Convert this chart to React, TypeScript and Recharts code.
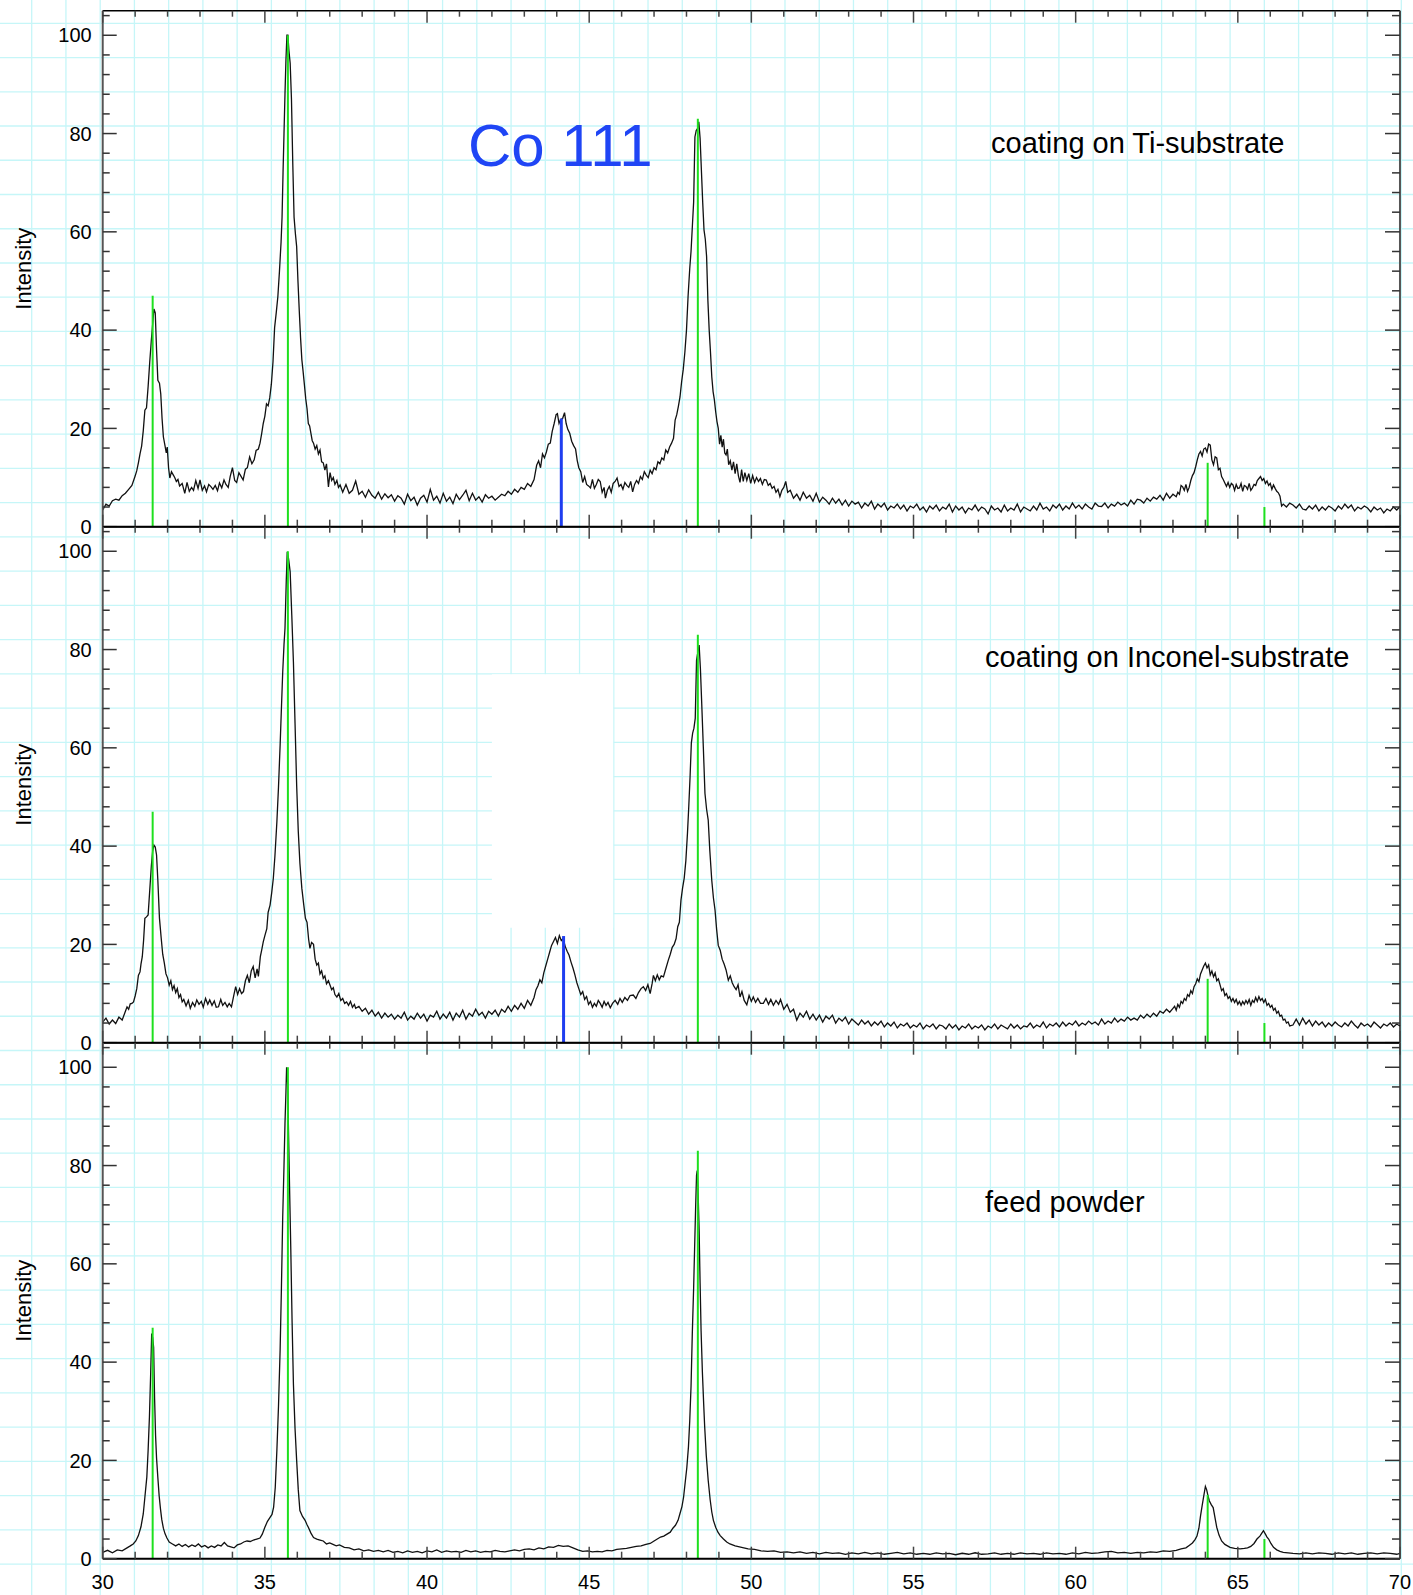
import React from "react";
import { LineChart, Line, XAxis, YAxis, ReferenceLine, ReferenceArea } from "recharts";

const W = 1413;
const H = 1595;
const PLOT_LEFT = 102.7;
const PLOT_RIGHT = 1400;
const PLOT_TOP = 10.7;
const PLOT_H = 516;
const PLOT_W = PLOT_RIGHT - PLOT_LEFT;
const FONT = '"Liberation Sans", Arial, Helvetica, sans-serif';

// [2-theta, intensity]
const tiScan: [number, number][] = [
  [30.0, 3.4], [30.1, 4.6], [30.2, 4.2], [30.3, 5.3], [30.4, 5.6], [30.5, 5.4], [30.6, 6.3], [30.7, 6.8], [30.8, 7.6], [30.9, 8.4], [31.0, 10.3],
  [31.05, 11.4], [31.1, 13.0], [31.15, 14.8], [31.2, 16.4], [31.25, 19.5], [31.3, 23.7], [31.35, 24.2], [31.4, 28.5], [31.45, 33.5], [31.5, 38.0],
  [31.55, 42.0], [31.58, 44.3], [31.62, 43.5], [31.66, 36.0], [31.7, 29.8], [31.75, 29.2], [31.79, 27.0], [31.83, 22.0], [31.87, 18.3], [31.92, 16.5],
  [31.96, 15.0], [31.99, 16.2], [32.03, 12.0], [32.07, 9.9], [32.12, 11.2], [32.17, 10.6], [32.22, 10.0], [32.27, 9.2], [32.32, 9.6], [32.37, 8.3],
  [32.45, 8.8], [32.53, 6.8], [32.6, 9.0], [32.67, 7.2], [32.74, 8.0], [32.8, 7.4], [32.87, 9.4], [32.94, 7.8], [33.0, 9.5], [33.07, 7.4],
  [33.14, 8.3], [33.2, 7.1], [33.27, 8.6], [33.33, 8.2], [33.4, 7.6], [33.47, 8.4], [33.54, 7.3], [33.6, 8.9], [33.67, 7.9], [33.74, 9.5],
  [33.8, 8.6], [33.87, 8.0], [33.93, 10.2], [34.0, 12.0], [34.07, 9.4], [34.13, 9.0], [34.2, 11.0], [34.27, 10.2], [34.33, 9.5], [34.4, 11.7],
  [34.46, 12.0], [34.53, 14.2], [34.6, 12.8], [34.67, 13.6], [34.73, 15.5], [34.8, 15.8], [34.85, 17.0], [34.9, 18.9], [34.95, 21.0], [35.0, 22.5],
  [35.05, 25.0], [35.1, 24.6], [35.15, 26.2], [35.2, 29.0], [35.25, 33.5], [35.3, 40.5], [35.35, 43.5], [35.4, 46.8], [35.45, 52.0], [35.5, 58.0],
  [35.53, 63.0], [35.56, 72.0], [35.59, 80.0], [35.62, 88.0], [35.65, 95.0], [35.68, 100.0], [35.71, 100.0], [35.74, 97.0], [35.78, 94.3], [35.82, 87.0],
  [35.86, 74.0], [35.9, 63.0], [35.94, 59.7], [35.98, 57.0], [36.02, 50.0], [36.06, 44.0], [36.1, 38.5], [36.14, 34.0], [36.18, 31.5], [36.22, 28.8],
  [36.26, 26.0], [36.3, 24.0], [36.34, 21.0], [36.38, 20.5], [36.42, 19.0], [36.46, 17.5], [36.5, 17.0], [36.55, 15.8], [36.6, 16.5], [36.65, 14.8],
  [36.7, 15.6], [36.75, 13.2], [36.8, 13.0], [36.85, 11.5], [36.9, 12.8], [36.96, 8.1], [37.01, 11.0], [37.06, 9.4], [37.11, 10.0], [37.16, 8.6],
  [37.22, 9.4], [37.27, 8.0], [37.32, 8.5], [37.4, 7.0], [37.5, 8.6], [37.6, 6.8], [37.7, 7.4], [37.8, 9.3], [37.9, 6.6], [38.0, 7.2],
  [38.1, 6.0], [38.2, 7.5], [38.3, 6.4], [38.4, 5.8], [38.5, 7.0], [38.6, 5.6], [38.7, 6.7], [38.8, 5.9], [38.9, 6.5], [39.0, 5.2],
  [39.1, 6.3], [39.2, 5.8], [39.3, 4.6], [39.4, 6.6], [39.5, 5.3], [39.6, 6.0], [39.7, 4.4], [39.8, 5.8], [39.9, 6.4], [40.0, 5.0],
  [40.1, 7.6], [40.2, 5.4], [40.3, 6.2], [40.4, 4.8], [40.5, 6.8], [40.6, 5.2], [40.7, 6.0], [40.8, 4.7], [40.9, 6.6], [41.0, 5.5],
  [41.1, 6.4], [41.2, 7.4], [41.3, 5.3], [41.4, 6.8], [41.5, 5.4], [41.6, 6.1], [41.7, 5.0], [41.8, 6.5], [41.9, 5.8], [42.0, 6.2],
  [42.1, 5.4], [42.2, 6.0], [42.3, 6.6], [42.4, 6.3], [42.5, 7.2], [42.6, 6.6], [42.7, 7.6], [42.8, 7.0], [42.9, 8.0], [43.0, 7.6],
  [43.1, 8.8], [43.2, 8.2], [43.3, 9.6], [43.38, 12.5], [43.44, 13.4], [43.5, 12.0], [43.56, 14.8], [43.62, 14.0], [43.68, 15.2], [43.74, 16.8],
  [43.8, 17.0], [43.86, 19.4], [43.92, 21.0], [43.98, 22.8], [44.02, 23.0], [44.07, 21.0], [44.12, 21.8], [44.18, 22.0], [44.24, 23.2], [44.29, 21.0],
  [44.34, 19.8], [44.4, 19.0], [44.46, 17.4], [44.52, 16.5], [44.58, 15.8], [44.63, 13.5], [44.68, 12.0], [44.74, 11.2], [44.8, 9.0], [44.86, 10.2],
  [44.92, 8.6], [44.98, 8.3], [45.04, 7.9], [45.1, 9.6], [45.16, 7.8], [45.22, 8.6], [45.28, 9.6], [45.34, 9.2], [45.4, 7.0], [45.46, 8.0],
  [45.5, 5.8], [45.56, 7.4], [45.62, 8.2], [45.68, 7.0], [45.74, 8.8], [45.8, 9.2], [45.86, 9.9], [45.92, 8.2], [45.98, 8.6], [46.04, 7.6],
  [46.1, 9.0], [46.16, 8.4], [46.22, 8.0], [46.28, 9.2], [46.34, 7.1], [46.4, 8.6], [46.46, 9.4], [46.52, 8.8], [46.58, 10.2], [46.64, 9.6],
  [46.7, 11.2], [46.76, 10.5], [46.82, 10.0], [46.88, 11.5], [46.94, 10.8], [47.0, 12.0], [47.06, 11.6], [47.12, 13.2], [47.18, 12.8], [47.24, 14.0],
  [47.3, 13.6], [47.36, 15.6], [47.42, 15.0], [47.48, 16.2], [47.54, 17.0], [47.6, 18.0], [47.65, 21.7], [47.7, 22.8], [47.75, 24.5], [47.8, 26.4],
  [47.85, 29.5], [47.9, 32.0], [47.95, 35.5], [48.0, 40.0], [48.05, 47.0], [48.1, 52.5], [48.14, 56.0], [48.18, 61.0], [48.22, 66.0], [48.26, 79.3],
  [48.3, 80.6], [48.34, 81.0], [48.38, 82.4], [48.42, 79.0], [48.46, 72.5], [48.5, 66.0], [48.54, 60.4], [48.58, 58.5], [48.62, 55.0], [48.66, 46.0],
  [48.7, 40.0], [48.74, 35.5], [48.78, 30.5], [48.82, 27.5], [48.86, 25.8], [48.9, 23.4], [48.94, 21.4], [48.98, 20.0], [49.02, 16.8], [49.06, 18.6],
  [49.1, 16.2], [49.14, 17.8], [49.18, 15.0], [49.22, 14.6], [49.26, 15.8], [49.3, 12.6], [49.35, 13.4], [49.4, 11.5], [49.45, 13.2], [49.5, 10.8],
  [49.55, 12.8], [49.6, 10.4], [49.65, 9.0], [49.7, 11.6], [49.75, 9.2], [49.8, 11.0], [49.86, 9.4], [49.92, 10.8], [49.98, 8.8], [50.04, 10.4],
  [50.1, 9.0], [50.16, 10.0], [50.22, 9.2], [50.28, 9.8], [50.34, 8.6], [50.4, 9.6], [50.46, 9.5], [50.52, 8.4], [50.58, 8.8], [50.64, 7.8],
  [50.7, 8.2], [50.76, 7.0], [50.82, 7.6], [50.88, 6.1], [50.94, 7.4], [51.0, 8.0], [51.06, 9.2], [51.12, 7.0], [51.2, 7.4], [51.3, 5.8],
  [51.4, 6.6], [51.5, 5.4], [51.6, 7.0], [51.7, 5.8], [51.8, 6.4], [51.9, 5.2], [52.0, 6.8], [52.1, 5.0], [52.2, 6.0], [52.3, 5.4],
  [52.4, 4.6], [52.5, 5.8], [52.6, 4.8], [52.7, 5.6], [52.8, 4.4], [52.9, 5.4], [53.0, 4.2], [53.1, 5.2], [53.2, 4.6], [53.3, 5.0],
  [53.4, 3.8], [53.5, 4.8], [53.6, 4.2], [53.7, 5.2], [53.8, 3.6], [53.9, 4.6], [54.0, 4.0], [54.1, 4.8], [54.2, 3.4], [54.3, 4.2],
  [54.4, 3.8], [54.5, 4.6], [54.6, 3.6], [54.7, 4.4], [54.8, 3.2], [54.9, 4.2], [55.0, 3.8], [55.1, 4.6], [55.2, 3.4], [55.3, 4.0],
  [55.4, 3.0], [55.5, 4.2], [55.6, 3.6], [55.7, 4.4], [55.8, 3.2], [55.9, 4.0], [56.0, 3.6], [56.1, 4.6], [56.2, 3.0], [56.3, 4.2],
  [56.4, 3.4], [56.5, 4.0], [56.6, 2.8], [56.7, 3.8], [56.8, 3.4], [56.9, 4.4], [57.0, 3.2], [57.1, 4.0], [57.2, 3.6], [57.3, 2.6],
  [57.4, 4.2], [57.5, 3.4], [57.6, 3.8], [57.7, 3.0], [57.8, 4.4], [57.9, 3.2], [58.0, 3.8], [58.1, 3.4], [58.2, 4.6], [58.3, 3.0],
  [58.4, 4.0], [58.5, 3.6], [58.6, 3.2], [58.7, 4.2], [58.8, 3.4], [58.9, 4.8], [59.0, 3.6], [59.1, 4.0], [59.2, 3.2], [59.3, 4.4],
  [59.4, 3.8], [59.5, 4.6], [59.6, 3.4], [59.7, 4.2], [59.8, 3.6], [59.9, 4.8], [60.0, 3.8], [60.1, 4.4], [60.2, 3.6], [60.3, 4.6],
  [60.4, 4.0], [60.5, 3.6], [60.6, 4.8], [60.7, 4.2], [60.8, 4.1], [60.9, 4.8], [61.0, 3.8], [61.1, 4.6], [61.2, 4.2], [61.3, 5.0],
  [61.4, 4.4], [61.5, 4.8], [61.6, 4.2], [61.7, 5.4], [61.8, 4.6], [61.9, 5.6], [62.0, 5.4], [62.1, 4.8], [62.2, 5.8], [62.3, 5.2],
  [62.4, 6.0], [62.5, 5.6], [62.6, 6.4], [62.7, 5.4], [62.8, 6.8], [62.9, 5.8], [63.0, 6.6], [63.1, 6.1], [63.15, 7.0], [63.2, 6.6],
  [63.25, 8.4], [63.3, 8.1], [63.35, 7.4], [63.4, 8.6], [63.45, 7.2], [63.5, 8.0], [63.55, 9.4], [63.6, 10.4], [63.65, 11.0], [63.7, 12.2],
  [63.75, 13.6], [63.8, 14.8], [63.85, 15.3], [63.9, 14.4], [63.95, 15.8], [64.0, 16.0], [64.05, 15.2], [64.1, 16.8], [64.15, 16.6], [64.2, 13.6],
  [64.25, 12.6], [64.3, 14.2], [64.35, 14.0], [64.4, 11.6], [64.45, 11.9], [64.5, 10.2], [64.55, 9.6], [64.6, 8.9], [64.65, 8.2], [64.7, 9.0],
  [64.75, 8.0], [64.8, 8.8], [64.85, 8.5], [64.9, 7.4], [64.95, 8.6], [65.0, 7.8], [65.05, 7.9], [65.1, 8.8], [65.15, 7.2], [65.2, 8.4],
  [65.25, 8.2], [65.3, 7.6], [65.35, 8.8], [65.4, 7.4], [65.45, 7.9], [65.5, 8.6], [65.55, 8.4], [65.6, 9.4], [65.65, 9.8], [65.7, 10.2],
  [65.75, 9.4], [65.8, 9.8], [65.85, 8.8], [65.9, 9.3], [65.95, 8.4], [66.0, 8.8], [66.05, 7.6], [66.1, 8.5], [66.15, 7.8], [66.2, 7.2],
  [66.25, 6.9], [66.3, 6.2], [66.35, 4.2], [66.4, 4.6], [66.5, 4.0], [66.6, 4.8], [66.7, 4.4], [66.8, 3.8], [66.9, 4.6], [67.0, 3.6],
  [67.1, 3.4], [67.2, 4.2], [67.3, 3.6], [67.4, 4.4], [67.5, 3.2], [67.6, 4.0], [67.7, 3.4], [67.8, 4.2], [67.9, 3.8], [68.0, 3.2],
  [68.1, 4.2], [68.2, 3.6], [68.3, 4.6], [68.4, 3.8], [68.5, 4.4], [68.6, 3.2], [68.7, 4.0], [68.8, 3.6], [68.9, 4.2], [69.0, 3.8],
  [69.1, 3.0], [69.2, 4.0], [69.3, 3.4], [69.4, 3.8], [69.5, 2.8], [69.6, 3.6], [69.7, 3.2], [69.8, 4.0], [69.9, 3.4], [70.0, 4.1],
];

const inconelScan: [number, number][] = [
  [30.0, 4.2], [30.1, 5.0], [30.2, 3.8], [30.3, 4.6], [30.4, 3.9], [30.5, 5.2], [30.6, 4.6], [30.7, 6.4], [30.75, 7.3], [30.8, 6.8],
  [30.85, 7.9], [30.9, 8.0], [30.95, 8.3], [31.0, 9.5], [31.05, 11.0], [31.1, 13.7], [31.15, 14.4], [31.18, 16.0], [31.22, 17.5], [31.26, 20.8],
  [31.3, 25.3], [31.35, 25.6], [31.4, 26.0], [31.45, 31.0], [31.5, 36.0], [31.54, 39.0], [31.58, 40.2], [31.62, 39.8], [31.66, 38.2], [31.7, 33.0],
  [31.75, 25.3], [31.8, 21.5], [31.85, 18.0], [31.9, 16.2], [31.95, 14.0], [32.0, 13.2], [32.05, 11.7], [32.1, 12.6], [32.15, 10.8], [32.2, 11.6],
  [32.25, 10.2], [32.3, 11.0], [32.35, 9.2], [32.4, 9.8], [32.45, 8.3], [32.5, 8.8], [32.57, 7.5], [32.64, 8.6], [32.7, 7.0], [32.77, 8.2],
  [32.84, 7.4], [32.9, 8.7], [32.97, 7.8], [33.04, 8.4], [33.1, 7.2], [33.17, 9.0], [33.24, 7.8], [33.3, 8.7], [33.37, 7.6], [33.44, 8.5],
  [33.5, 7.2], [33.57, 7.3], [33.64, 8.8], [33.7, 7.6], [33.77, 8.2], [33.84, 7.3], [33.9, 8.0], [33.97, 7.3], [34.04, 9.6], [34.1, 11.4],
  [34.16, 9.8], [34.22, 11.0], [34.28, 10.0], [34.34, 10.4], [34.4, 12.6], [34.46, 13.7], [34.52, 12.2], [34.58, 14.6], [34.64, 15.5], [34.7, 13.2],
  [34.76, 15.0], [34.8, 13.5], [34.86, 17.5], [34.9, 18.8], [34.95, 20.5], [35.0, 21.8], [35.06, 23.2], [35.1, 26.5], [35.16, 28.0], [35.21, 30.5],
  [35.26, 33.4], [35.31, 38.0], [35.37, 44.9], [35.42, 52.0], [35.47, 60.5], [35.51, 68.0], [35.55, 75.4], [35.59, 81.0], [35.62, 84.3], [35.66, 94.0],
  [35.69, 99.9], [35.73, 98.5], [35.78, 95.8], [35.83, 87.0], [35.88, 77.5], [35.93, 65.0], [35.98, 52.4], [36.03, 43.0], [36.08, 36.5], [36.14, 31.4],
  [36.2, 28.0], [36.25, 25.3], [36.3, 24.5], [36.35, 21.0], [36.39, 19.2], [36.44, 20.4], [36.5, 20.0], [36.55, 17.0], [36.6, 15.8], [36.65, 16.2],
  [36.7, 14.0], [36.75, 14.6], [36.8, 13.1], [36.85, 13.6], [36.9, 12.0], [36.96, 12.6], [37.01, 11.7], [37.06, 10.8], [37.11, 11.2], [37.16, 9.8],
  [37.22, 9.3], [37.28, 10.0], [37.34, 8.6], [37.4, 9.0], [37.46, 8.0], [37.52, 8.3], [37.58, 7.6], [37.64, 8.4], [37.7, 7.2], [37.76, 7.8],
  [37.8, 7.0], [37.9, 7.4], [38.0, 6.4], [38.1, 7.0], [38.2, 5.8], [38.3, 6.6], [38.4, 5.4], [38.5, 6.2], [38.6, 5.0], [38.7, 6.0],
  [38.8, 5.2], [38.9, 5.8], [39.0, 4.8], [39.1, 5.6], [39.2, 5.0], [39.3, 6.2], [39.4, 4.6], [39.5, 5.4], [39.6, 4.8], [39.7, 6.0],
  [39.8, 5.0], [39.9, 5.8], [40.0, 4.4], [40.1, 5.6], [40.2, 5.2], [40.3, 6.4], [40.4, 4.8], [40.5, 5.8], [40.6, 5.0], [40.7, 6.2],
  [40.8, 4.6], [40.9, 6.0], [41.0, 5.2], [41.1, 6.6], [41.2, 4.8], [41.3, 6.0], [41.4, 5.4], [41.5, 6.8], [41.6, 5.6], [41.7, 6.2],
  [41.8, 5.0], [41.9, 6.4], [42.0, 5.8], [42.1, 6.6], [42.2, 5.4], [42.3, 6.8], [42.4, 6.2], [42.5, 7.4], [42.6, 6.4], [42.7, 7.6],
  [42.8, 6.8], [42.9, 8.0], [43.0, 7.0], [43.1, 8.6], [43.2, 7.6], [43.3, 9.2], [43.36, 10.8], [43.42, 11.6], [43.48, 12.8], [43.54, 12.2],
  [43.6, 14.2], [43.66, 15.6], [43.72, 17.0], [43.78, 18.4], [43.84, 19.8], [43.9, 20.6], [43.96, 21.4], [44.02, 20.2], [44.08, 21.8], [44.14, 20.8],
  [44.2, 21.2], [44.26, 19.6], [44.32, 18.6], [44.38, 17.8], [44.44, 16.4], [44.5, 15.2], [44.56, 13.8], [44.62, 12.2], [44.68, 11.0], [44.74, 9.8],
  [44.8, 10.4], [44.86, 8.8], [44.92, 9.4], [44.98, 7.8], [45.04, 8.4], [45.1, 7.2], [45.16, 8.0], [45.22, 7.4], [45.28, 8.6], [45.34, 8.0],
  [45.4, 7.2], [45.46, 8.4], [45.52, 7.6], [45.58, 8.2], [45.65, 7.1], [45.72, 8.0], [45.8, 8.6], [45.88, 7.8], [45.95, 9.0], [46.02, 8.2],
  [46.1, 9.2], [46.18, 8.6], [46.26, 9.6], [46.36, 9.7], [46.44, 9.0], [46.52, 10.2], [46.6, 11.0], [46.67, 11.4], [46.74, 10.6], [46.81, 11.8],
  [46.88, 10.0], [46.94, 12.0], [46.98, 13.7], [47.04, 12.6], [47.1, 13.8], [47.16, 12.8], [47.22, 13.6], [47.29, 13.4], [47.36, 15.0], [47.44, 16.8],
  [47.5, 18.0], [47.56, 19.4], [47.62, 20.0], [47.68, 21.2], [47.73, 23.6], [47.78, 24.5], [47.83, 29.0], [47.88, 31.5], [47.93, 33.5], [47.98, 37.0],
  [48.03, 42.6], [48.07, 48.0], [48.11, 54.0], [48.15, 61.0], [48.19, 63.0], [48.23, 64.0], [48.27, 66.0], [48.31, 77.8], [48.35, 79.5], [48.39, 80.9],
  [48.43, 76.0], [48.47, 69.0], [48.52, 60.0], [48.57, 50.7], [48.62, 47.5], [48.67, 45.3], [48.72, 39.0], [48.78, 33.0], [48.83, 29.5], [48.88, 27.0],
  [48.93, 23.0], [48.98, 19.8], [49.04, 18.8], [49.1, 17.0], [49.16, 16.0], [49.22, 14.8], [49.29, 12.7], [49.35, 13.6], [49.41, 12.2], [49.47, 11.4],
  [49.53, 10.8], [49.59, 11.8], [49.65, 9.3], [49.71, 10.4], [49.78, 8.6], [49.86, 7.7], [49.93, 9.6], [50.0, 8.4], [50.06, 9.3], [50.13, 8.2],
  [50.2, 9.0], [50.28, 8.0], [50.37, 8.0], [50.45, 9.0], [50.53, 7.8], [50.6, 8.8], [50.68, 7.6], [50.76, 8.6], [50.84, 7.8], [50.9, 8.8],
  [51.0, 6.8], [51.1, 7.8], [51.2, 6.2], [51.3, 6.8], [51.4, 4.6], [51.5, 6.0], [51.6, 5.2], [51.7, 6.4], [51.8, 4.8], [51.9, 5.8],
  [52.0, 4.6], [52.1, 5.6], [52.2, 4.2], [52.3, 5.4], [52.4, 4.8], [52.5, 5.6], [52.6, 4.0], [52.7, 5.0], [52.8, 4.4], [52.9, 5.2],
  [53.0, 3.8], [53.1, 4.8], [53.2, 4.2], [53.3, 3.6], [53.4, 4.6], [53.5, 3.8], [53.6, 4.4], [53.7, 3.4], [53.8, 4.2], [53.9, 3.6],
  [54.0, 4.4], [54.1, 3.2], [54.2, 4.0], [54.3, 3.4], [54.4, 4.2], [54.5, 3.0], [54.6, 3.8], [54.7, 3.4], [54.8, 4.0], [54.9, 3.0],
  [55.0, 3.6], [55.1, 3.2], [55.2, 4.0], [55.3, 2.8], [55.4, 3.6], [55.5, 3.2], [55.6, 3.8], [55.7, 2.8], [55.8, 3.6], [55.9, 3.4],
  [56.0, 2.8], [56.1, 3.8], [56.2, 3.0], [56.3, 3.6], [56.4, 2.6], [56.5, 3.4], [56.6, 3.0], [56.7, 3.8], [56.8, 2.8], [56.9, 3.4],
  [57.0, 3.0], [57.1, 3.6], [57.2, 2.6], [57.3, 3.4], [57.4, 3.0], [57.5, 3.8], [57.6, 2.8], [57.7, 3.6], [57.8, 3.2], [57.9, 2.8],
  [58.0, 3.8], [58.1, 3.0], [58.2, 3.6], [58.3, 2.8], [58.4, 3.4], [58.5, 3.2], [58.6, 4.0], [58.7, 3.0], [58.8, 3.6], [58.9, 3.2],
  [59.0, 4.2], [59.1, 3.0], [59.2, 3.8], [59.3, 3.4], [59.4, 4.0], [59.5, 3.2], [59.6, 4.2], [59.7, 3.4], [59.8, 4.0], [59.9, 3.6],
  [60.0, 4.4], [60.1, 3.4], [60.2, 4.0], [60.3, 3.6], [60.4, 4.4], [60.5, 3.8], [60.6, 4.2], [60.7, 3.6], [60.8, 4.8], [60.9, 3.8],
  [61.0, 4.4], [61.1, 4.0], [61.2, 5.0], [61.3, 4.2], [61.4, 4.8], [61.5, 4.4], [61.6, 5.2], [61.7, 4.6], [61.8, 5.0], [61.9, 4.6],
  [62.0, 5.6], [62.1, 5.0], [62.2, 5.8], [62.3, 5.2], [62.4, 6.0], [62.5, 5.4], [62.6, 6.4], [62.7, 6.0], [62.8, 6.8], [62.9, 6.2],
  [63.0, 7.0], [63.05, 7.4], [63.1, 6.6], [63.15, 7.8], [63.2, 7.2], [63.25, 8.4], [63.3, 8.0], [63.35, 9.0], [63.4, 8.6], [63.45, 9.8],
  [63.5, 9.4], [63.55, 10.6], [63.6, 10.0], [63.65, 11.4], [63.7, 12.0], [63.75, 13.0], [63.8, 12.4], [63.85, 14.0], [63.9, 14.8], [63.95, 15.6],
  [64.0, 16.2], [64.05, 15.2], [64.1, 15.8], [64.15, 13.8], [64.2, 14.6], [64.25, 13.4], [64.3, 14.2], [64.35, 12.6], [64.4, 13.0], [64.45, 11.8],
  [64.5, 10.6], [64.55, 11.0], [64.6, 9.6], [64.65, 10.0], [64.7, 9.0], [64.75, 9.4], [64.8, 8.4], [64.85, 9.0], [64.9, 8.2], [64.95, 8.8],
  [65.0, 7.8], [65.05, 8.4], [65.1, 7.6], [65.15, 8.4], [65.2, 7.8], [65.25, 8.6], [65.3, 8.0], [65.35, 8.8], [65.4, 7.6], [65.45, 8.6],
  [65.5, 8.2], [65.55, 9.2], [65.6, 8.4], [65.65, 9.4], [65.7, 8.6], [65.75, 9.0], [65.8, 8.2], [65.85, 8.8], [65.9, 7.6], [65.95, 8.0],
  [66.0, 7.2], [66.05, 7.6], [66.1, 6.6], [66.15, 7.0], [66.2, 6.0], [66.25, 6.4], [66.3, 5.4], [66.35, 5.6], [66.4, 4.6], [66.45, 4.8],
  [66.5, 4.0], [66.55, 4.2], [66.6, 3.4], [66.7, 3.6], [66.8, 4.8], [66.9, 3.6], [67.0, 5.0], [67.1, 3.8], [67.2, 4.6], [67.3, 3.4],
  [67.4, 4.4], [67.5, 3.6], [67.6, 4.2], [67.7, 3.2], [67.8, 4.0], [67.9, 3.4], [68.0, 4.2], [68.1, 3.6], [68.2, 3.2], [68.3, 4.0],
  [68.4, 3.4], [68.5, 4.4], [68.6, 3.6], [68.7, 3.0], [68.8, 4.0], [68.9, 3.4], [69.0, 3.8], [69.1, 3.2], [69.2, 4.2], [69.3, 3.6],
  [69.4, 3.0], [69.5, 3.8], [69.6, 3.4], [69.7, 4.0], [69.8, 3.2], [69.9, 3.8], [70.0, 3.4],
];

const powderScan: [number, number][] = [
  [30.0, 1.3], [30.15, 1.7], [30.3, 1.2], [30.45, 1.8], [30.6, 1.6], [30.75, 2.2], [30.85, 2.6], [30.94, 3.0], [31.02, 3.6], [31.1, 4.7],
  [31.18, 6.5], [31.25, 9.1], [31.3, 12.5], [31.36, 16.6], [31.4, 22.0], [31.44, 28.8], [31.48, 38.0], [31.51, 45.8], [31.54, 45.0], [31.57, 43.0],
  [31.6, 32.5], [31.63, 25.0], [31.66, 20.5], [31.7, 16.5], [31.74, 12.8], [31.78, 10.2], [31.82, 8.0], [31.87, 6.2], [31.92, 5.1], [31.98, 4.2],
  [32.05, 3.4], [32.15, 3.0], [32.25, 2.6], [32.35, 3.0], [32.45, 2.5], [32.55, 2.9], [32.65, 2.4], [32.75, 2.8], [32.85, 2.5], [32.95, 3.0],
  [33.05, 2.4], [33.15, 2.7], [33.25, 2.2], [33.35, 2.6], [33.45, 2.3], [33.55, 2.8], [33.65, 2.6], [33.75, 3.3], [33.85, 2.6], [33.95, 2.4],
  [34.05, 2.2], [34.15, 2.8], [34.25, 3.0], [34.35, 3.4], [34.45, 3.6], [34.55, 3.5], [34.65, 3.8], [34.75, 4.0], [34.85, 4.2], [34.92, 5.0],
  [35.0, 6.4], [35.08, 7.6], [35.16, 8.4], [35.22, 9.0], [35.27, 10.5], [35.32, 14.5], [35.37, 22.0], [35.42, 31.0], [35.47, 42.4], [35.51, 55.0],
  [35.55, 69.5], [35.59, 80.0], [35.62, 88.5], [35.65, 95.0], [35.67, 100.0], [35.7, 97.0], [35.72, 90.0], [35.76, 76.0], [35.8, 62.7], [35.84, 48.0],
  [35.88, 35.6], [35.93, 26.5], [35.98, 20.0], [36.03, 14.0], [36.08, 9.8], [36.16, 8.6], [36.24, 7.8], [36.3, 6.9], [36.34, 6.4], [36.42, 5.2],
  [36.5, 4.3], [36.6, 4.0], [36.7, 3.8], [36.8, 3.6], [36.9, 3.0], [37.0, 3.2], [37.1, 2.9], [37.2, 2.6], [37.3, 2.8], [37.45, 2.3],
  [37.6, 2.2], [37.75, 1.8], [37.9, 2.0], [38.05, 1.6], [38.2, 1.8], [38.35, 1.5], [38.5, 1.7], [38.65, 1.4], [38.8, 1.7], [38.95, 1.3],
  [39.1, 1.5], [39.25, 1.2], [39.4, 1.6], [39.55, 1.3], [39.7, 1.5], [39.85, 1.2], [40.0, 1.6], [40.15, 1.4], [40.3, 1.8], [40.45, 1.3],
  [40.6, 1.6], [40.75, 1.4], [40.9, 1.5], [41.05, 1.3], [41.2, 1.7], [41.35, 1.4], [41.5, 1.6], [41.65, 1.3], [41.8, 1.5], [41.95, 1.4],
  [42.1, 1.7], [42.25, 1.5], [42.4, 1.4], [42.55, 1.6], [42.7, 1.8], [42.85, 1.6], [43.0, 1.9], [43.15, 2.0], [43.3, 1.8], [43.45, 2.2],
  [43.6, 2.0], [43.75, 2.4], [43.9, 2.3], [44.05, 2.7], [44.2, 2.5], [44.35, 2.6], [44.5, 2.2], [44.65, 1.8], [44.8, 1.5], [44.95, 1.6],
  [45.1, 1.4], [45.25, 1.5], [45.4, 1.4], [45.55, 1.7], [45.7, 1.6], [45.85, 1.9], [46.0, 2.0], [46.15, 2.1], [46.3, 2.3], [46.45, 2.5],
  [46.6, 2.6], [46.75, 2.9], [46.88, 3.1], [47.0, 3.6], [47.1, 4.0], [47.2, 4.4], [47.3, 4.6], [47.4, 5.0], [47.5, 5.4], [47.58, 6.2],
  [47.66, 6.8], [47.74, 7.8], [47.8, 9.2], [47.86, 10.6], [47.91, 12.5], [47.96, 15.5], [48.01, 18.5], [48.06, 22.7], [48.1, 28.0], [48.14, 35.0],
  [48.18, 46.0], [48.22, 55.0], [48.25, 63.0], [48.28, 71.0], [48.31, 78.0], [48.33, 79.0], [48.36, 74.0], [48.39, 66.8], [48.42, 56.0], [48.45, 46.4],
  [48.49, 38.0], [48.53, 31.5], [48.56, 27.0], [48.61, 21.0], [48.67, 15.9], [48.73, 12.0], [48.78, 9.5], [48.83, 7.8], [48.9, 6.4], [48.97, 5.4],
  [49.04, 4.7], [49.14, 4.0], [49.24, 3.4], [49.34, 3.0], [49.5, 2.6], [49.7, 2.3], [49.9, 2.0], [50.1, 1.9], [50.3, 1.6], [50.5, 1.5],
  [50.7, 1.6], [50.9, 1.3], [51.1, 1.4], [51.3, 1.2], [51.5, 1.4], [51.7, 1.1], [51.9, 1.3], [52.1, 1.0], [52.3, 1.3], [52.5, 1.1],
  [52.7, 1.2], [52.9, 0.9], [53.1, 1.2], [53.3, 1.0], [53.5, 1.3], [53.7, 1.0], [53.9, 1.2], [54.1, 0.9], [54.3, 1.1], [54.5, 1.3],
  [54.7, 1.0], [54.9, 1.2], [55.1, 0.9], [55.3, 1.1], [55.5, 0.9], [55.7, 1.2], [55.9, 1.0], [56.1, 1.1], [56.3, 0.8], [56.5, 1.1],
  [56.7, 0.9], [56.9, 1.2], [57.1, 0.9], [57.3, 1.0], [57.5, 1.2], [57.7, 0.9], [57.9, 1.1], [58.1, 0.9], [58.3, 1.2], [58.5, 1.0],
  [58.7, 1.1], [58.9, 0.9], [59.1, 1.2], [59.3, 1.0], [59.5, 1.1], [59.7, 0.9], [59.9, 1.2], [60.1, 1.0], [60.3, 1.3], [60.5, 1.1],
  [60.7, 1.2], [60.9, 1.4], [61.1, 1.5], [61.3, 1.2], [61.5, 1.3], [61.7, 1.1], [61.9, 1.3], [62.1, 1.2], [62.3, 1.4], [62.5, 1.3],
  [62.7, 1.6], [62.9, 1.5], [63.1, 1.7], [63.25, 2.0], [63.4, 2.2], [63.5, 2.7], [63.6, 3.2], [63.68, 3.9], [63.74, 4.6], [63.8, 6.2],
  [63.85, 8.7], [63.9, 10.8], [63.95, 12.8], [64.0, 14.7], [64.04, 14.0], [64.08, 12.8], [64.12, 11.8], [64.18, 11.0], [64.24, 10.4], [64.3, 8.2],
  [64.35, 6.4], [64.42, 4.8], [64.5, 3.6], [64.6, 2.9], [64.76, 2.3], [64.9, 2.1], [65.07, 2.0], [65.2, 2.1], [65.3, 2.2], [65.4, 2.5],
  [65.5, 3.1], [65.59, 4.0], [65.68, 4.6], [65.74, 5.2], [65.79, 5.7], [65.85, 5.0], [65.9, 4.4], [65.95, 4.0], [66.02, 3.1], [66.1, 2.3],
  [66.2, 1.8], [66.3, 1.5], [66.4, 1.3], [66.55, 1.2], [66.7, 1.1], [66.9, 1.0], [67.1, 1.2], [67.3, 1.0], [67.5, 1.2], [67.7, 1.1],
  [67.9, 0.9], [68.1, 1.2], [68.3, 1.0], [68.5, 1.2], [68.7, 0.9], [68.9, 1.1], [69.1, 1.2], [69.3, 1.0], [69.5, 1.2], [69.7, 1.1],
  [69.9, 0.9], [70.0, 1.1],
];

// reference pattern sticks (green) and Co 111 (blue)
const stickPos = [31.54, 35.71, 48.35, 64.07, 65.82];
const stickHeight = [47, 100, 83, 13, 4];
const coPos = [44.14, 44.21];
const coHeight = [22, 21.7];

const xTicks = [30, 31, 32, 33, 34, 35, 36, 37, 38, 39, 40, 41, 42, 43, 44, 45, 46, 47, 48, 49, 50,
  51, 52, 53, 54, 55, 56, 57, 58, 59, 60, 61, 62, 63, 64, 65, 66, 67, 68, 69, 70];
const yTicks = [0, 4, 8, 12, 16, 20, 24, 28, 32, 36, 40, 44, 48, 52, 56, 60, 64, 68, 72, 76, 80, 84, 88, 92, 96, 100, 104];

const panelNames = ["coating on Ti-substrate", "coating on Inconel-substrate", "feed powder"];

function XTick(props: any) {
  const { x, y, payload, showLabel } = props;
  const v = payload.value;
  const major = v % 5 === 0;
  return (
    <g>
      <line x1={x} y1={y} x2={x} y2={y - (major ? 12 : 7)} stroke="#444" strokeWidth={1.5} />
      <line x1={x} y1={y - PLOT_H} x2={x} y2={y - PLOT_H + (major ? 12 : 6)} stroke="#444" strokeWidth={1.5} />
      {showLabel && major && (
        <text x={x} y={y + 30} textAnchor="middle" fontSize={20} fontFamily={FONT} fill="#000">
          {v}
        </text>
      )}
    </g>
  );
}

function YTick(props: any) {
  const { x, y, payload } = props;
  const v = payload.value;
  const major = v % 20 === 0;
  return (
    <g>
      <line x1={x} y1={y} x2={x + (major ? 14 : 7)} y2={y} stroke="#333" strokeWidth={1.5} />
      <line x1={x + PLOT_W} y1={y} x2={x + PLOT_W - (major ? 15 : 8)} y2={y} stroke="#333" strokeWidth={1.5} />
      {major && (
        <text x={x - 11} y={y} dy="0.36em" textAnchor="end" fontSize={20} fontFamily={FONT} fill="#000">
          {v}
        </text>
      )}
    </g>
  );
}

function Panel({ scan, index, co, patch }: { scan: [number, number][]; index: number; co?: number; patch?: boolean }) {
  const rows = scan.map(([x, y]) => ({ x, y }));
  const showX = index === 2;
  return (
    <div style={{ position: "absolute", left: 0, top: PLOT_H * index }}>
      <LineChart
        width={W}
        height={PLOT_TOP + PLOT_H + 40}
        data={rows}
        margin={{ top: PLOT_TOP, right: W - PLOT_RIGHT, bottom: 10, left: PLOT_LEFT - 60 }}
      >
        <XAxis
          dataKey="x"
          type="number"
          domain={[30, 70]}
          ticks={xTicks}
          interval={0}
          height={30}
          tickSize={0}
          tickMargin={0}
          tickLine={false}
          axisLine={{ stroke: "#000", strokeWidth: 2 }}
          tick={(p: any) => <XTick {...p} showLabel={showX} />}
        />
        <YAxis
          type="number"
          domain={[0, 105]}
          ticks={yTicks}
          interval={0}
          width={60}
          tickSize={0}
          tickMargin={0}
          tickLine={false}
          axisLine={{ stroke: "#555", strokeWidth: 2 }}
          tick={(p: any) => <YTick {...p} />}
        />
        {patch && (
          <ReferenceArea x1={42.0} x2={45.74} y1={23.4} y2={75} fill="#ffffff" fillOpacity={1} stroke="none" />
        )}
        <ReferenceLine y={105} stroke="#000" strokeWidth={1.5} />
        <ReferenceLine x={70} stroke="#555" strokeWidth={2} />
        <Line
          dataKey="y"
          type="linear"
          stroke="#111"
          strokeWidth={1.3}
          dot={false}
          isAnimationActive={false}
        />
        {stickPos.map((p, i) => (
          <ReferenceLine
            key={"s" + i}
            segment={[{ x: p, y: 0 }, { x: p, y: stickHeight[i] }]}
            stroke="#1ee01e"
            strokeWidth={2}
          />
        ))}
        {co !== undefined && (
          <ReferenceLine
            segment={[{ x: coPos[co], y: 0 }, { x: coPos[co], y: coHeight[co] }]}
            stroke="#1f3ef0"
            strokeWidth={3}
          />
        )}
      </LineChart>
    </div>
  );
}

export default function App() {
  const gridXs: number[] = [];
  for (let gx = 31.7; gx < W; gx += 34.24) gridXs.push(gx);
  const gridYs: number[] = [];
  for (let gy = 23.3; gy < H; gy += 34.24) gridYs.push(gy);

  return (
    <div style={{ position: "absolute", left: 0, top: 0, width: W, height: H, background: "#fff", overflow: "hidden" }}>
      <svg width={W} height={H} style={{ position: "absolute", left: 0, top: 0 }}>
        {gridXs.map((gx) => (
          <line key={"gx" + gx} x1={gx} y1={0} x2={gx} y2={H} stroke="#c6f6f8" strokeWidth={1.3} />
        ))}
        {gridYs.map((gy) => (
          <line key={"gy" + gy} x1={0} y1={gy} x2={W} y2={gy} stroke="#c6f6f8" strokeWidth={1.3} />
        ))}
      </svg>

      <Panel scan={tiScan} index={0} co={0} />
      <Panel scan={inconelScan} index={1} co={1} patch />
      <Panel scan={powderScan} index={2} />

      <svg width={W} height={H} style={{ position: "absolute", left: 0, top: 0, pointerEvents: "none" }}>
        {[0, 1, 2].map((k) => (
          <text
            key={"int" + k}
            transform={`translate(31, ${PLOT_TOP + PLOT_H * (k + 0.5)}) rotate(-90)`}
            textAnchor="middle"
            fontSize={22}
            fontFamily={FONT}
            fill="#000"
          >
            Intensity
          </text>
        ))}
        <text x={468} y={166} fontSize={60} fontFamily={FONT} fill="#1f45f5">
          Co 111
        </text>
        <text x={991} y={153} fontSize={29} fontFamily={FONT} fill="#000">
          {panelNames[0]}
        </text>
        <text x={985} y={667} fontSize={29} fontFamily={FONT} fill="#000">
          {panelNames[1]}
        </text>
        <text x={985} y={1212} fontSize={29} fontFamily={FONT} fill="#000">
          {panelNames[2]}
        </text>
      </svg>
    </div>
  );
}
